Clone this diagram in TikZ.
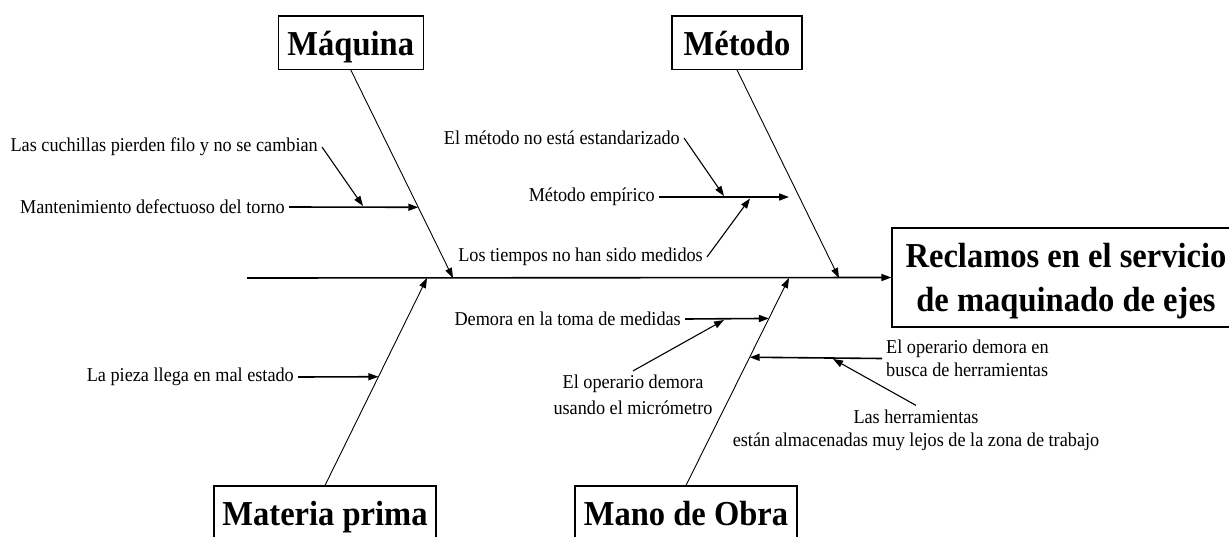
\documentclass[tikz,border=0pt]{standalone}
\usepackage{fontspec}
\setmainfont{Liberation Serif}[FakeStretch=0.93]
\usetikzlibrary{arrows.meta}
\begin{document}
\begin{tikzpicture}[x=1pt,y=-1pt,
  titlef/.style={font=\bfseries\fontsize{35}{44}\selectfont},
  cat/.style={draw, line width=1.2pt, titlef, inner sep=0pt},
  topcat/.style={cat, minimum height=53.3pt, text height=28pt, text depth=3.4pt},
  botcat/.style={cat, minimum height=60pt, text height=25pt, text depth=7pt},
  lbl/.style={font=\fontsize{19.6}{23}\selectfont, inner sep=4pt},
  tip/.style={-{Triangle[length=10pt,width=7pt]}},
  bone/.style={tip, line width=0.9pt},
  harr/.style={tip, line width=1.6pt},
  darr/.style={tip, line width=1.1pt}]
\useasboundingbox (0,0) rectangle (1229,536);
% category boxes
\node[topcat, minimum width=145pt] (maq) at (350.8,42.7) {Máquina};
\node[topcat, minimum width=130pt] (met) at (737,42.7) {Método};
\node[botcat, minimum width=222pt] (mp) at (325,516) {Materia prima};
\node[botcat, minimum width=222pt] (mo) at (686,516) {Mano de Obra};
\node[draw, line width=1.2pt, minimum width=348pt, minimum height=99pt, inner sep=0pt] (rec) at (1066,277.5) {};
\node[titlef, align=center, inner sep=0pt] (rectxt) at (1066,280.7) {Reclamos en el servicio\\de maquinado de ejes};
% spine
\coordinate (tail) at (247,278);
\draw[harr] (tail) -- (rec.west);
\coordinate (sM) at (453,278);
\coordinate (sE) at (839,278);
\coordinate (sP) at (427,278);
\coordinate (sO) at (789,278);
\draw[bone] (maq.south) -- (sM);
\draw[bone] (met.south) -- (sE);
\draw[bone] (mp.north) -- (sP);
\draw[bone] (mo.north) -- (sO);
% points on the bones
\path (maq.south) -- (sM) coordinate[pos=0.660] (m2);
\path (mp.north) -- (sP) coordinate[pos=0.524] (p1);
\path (mo.north) -- (sO) coordinate[pos=0.805] (o1);
\path (mo.north) -- (sO) coordinate[pos=0.618] (o2);
\coordinate (e1) at (789,197);
% labels
\node[lbl, anchor=east] (t1) at (322,147) {Las cuchillas pierden filo y no se cambian};
\node[lbl, anchor=east] (t2) at (289,207) {Mantenimiento defectuoso del torno};
\node[lbl, anchor=east] (t3) at (684,138) {El método no está estandarizado};
\node[lbl, anchor=east] (t4) at (659,197) {Método empírico};
\node[lbl, anchor=east] (t5) at (707,257) {Los tiempos no han sido medidos};
\node[lbl, anchor=east] (t6) at (298,377) {La pieza llega en mal estado};
\node[lbl, anchor=east] (t7) at (685,319) {Demora en la toma de medidas};
\node[lbl, align=center, font=\fontsize{19.6}{26}\selectfont] (t8) at (633,395) {El operario demora\\usando el micrómetro};
\node[lbl, anchor=west, align=left] (t9) at (882,358.5) {El operario demora en\\busca de herramientas};
\node[lbl, align=center] (t10) at (916,430) {Las herramientas\\están almacenadas muy lejos de la zona de trabajo};
% horizontal cause arrows
\draw[harr] (t2.east) -- (m2);
\draw[harr] (t4.east) -- (e1);
\draw[harr] (t6.east) -- (p1);
\draw[harr] (t7.east) -- (o1);
\draw[harr] (t9.west) -- (o2);
% sub-cause arrows
\coordinate (a1) at (363,206);
\coordinate (a3) at (724,196);
\coordinate (a5) at (750,198.5);
\coordinate (a8) at (724,320);
\coordinate (a10) at (833,359);
\draw[darr] (t1.east) -- (a1);
\draw[darr] (t3.east) -- (a3);
\draw[darr] (t5.east) -- (a5);
\draw[darr] (t8.north) -- (a8);
\draw[darr] (t10.north) -- (a10);
\end{tikzpicture}
\end{document}
